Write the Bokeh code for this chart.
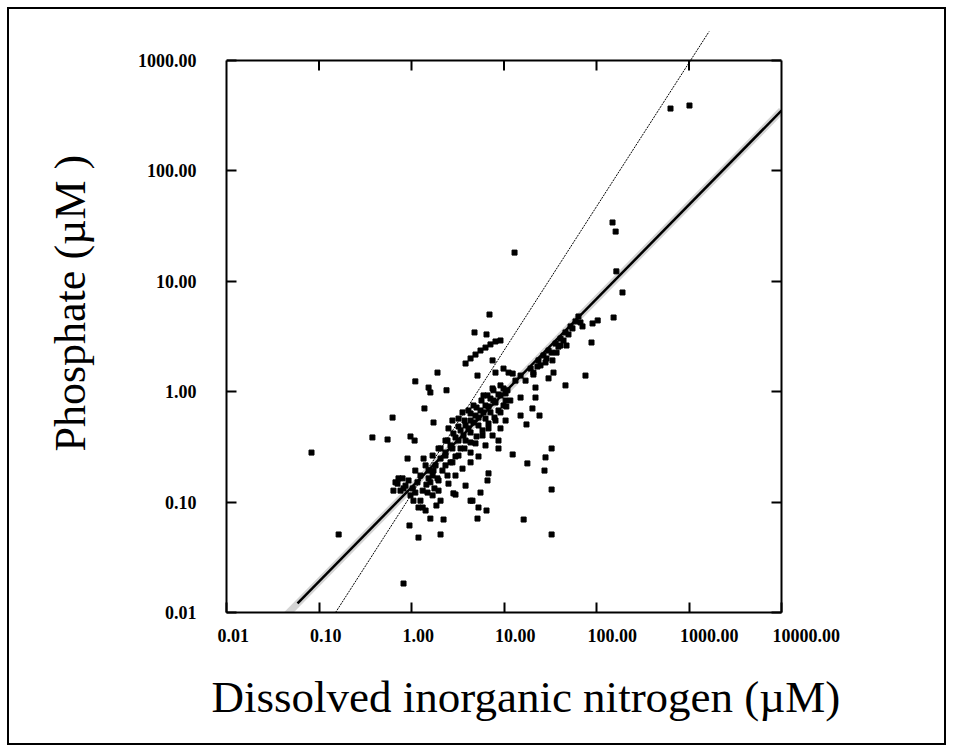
import math
from bokeh.plotting import figure
from bokeh.models import Range1d, FixedTicker, LogAxis, Title
from bokeh.embed import file_html
from bokeh.resources import INLINE

# ---------------- data ----------------
X_TICKS = [0.01, 0.1, 1.0, 10.0, 100.0, 1000.0, 10000.0]
X_TICK_LABELS = ["0.01", "0.10", "1.00", "10.00", "100.00", "1000.00", "10000.00"]
Y_TICKS = [0.01, 0.1, 1.0, 10.0, 100.0, 1000.0]
Y_TICK_LABELS = ["0.01", "0.10", "1.00", "10.00", "100.00", "1000.00"]
X_TITLE = "Dissolved inorganic nitrogen (\u00b5M)"
Y_TITLE = "Phosphate (\u00b5M )"

# dissolved inorganic nitrogen (uM)
DIN = [
    631, 1012, 149, 161, 164, 191, 13.0,
    153, 103, 90.6, 70.6, 88.3, 76.0, 46.2, 34.3, 30.3, 21.9, 21.9, 20.3, 24.2, 15.1, 17.5,
    32.7, 28.1, 27.4, 17.9, 12.4, 32.7, 16.3, 12.4, 20.8, 10.4, 15.1,
    19.4, 23.6, 26.7, 30.3, 36.1, 40.8, 46.2, 52.4, 59.3, 63.8, 37.0, 28.1, 40.8, 17.1, 24.8,
    6.97, 4.80, 6.47, 3.84, 4.35, 4.92, 5.57, 6.31, 7.14, 8.09, 9.16, 1.91, 1.10, 1.53, 1.60,
    2.39, 5.17, 7.52, 8.09,
    0.624, 1.38, 1.73, 0.551, 0.975, 1.08, 0.906, 1.35, 0.671, 0.638, 1.60, 1.96, 1.32, 1.05,
    2.84, 3.84, 6.80, 6.63, 5.57, 4.56, 5.30, 6.47, 8.72, 8.72, 1.60, 5.17,
    0.706, 0.861, 1.49, 1.19, 1.42, 2.22, 0.951, 1.19, 2.06, 0.820, 0.163, 2.99, 4.35, 32.7,
    2.33, 2.45, 0.378, 0.0830,
    9.16, 10.4, 8.09, 7.14, 6.31, 5.57, 7.14, 8.72, 9.88, 4.92,
    6.31, 8.09, 4.35, 3.84, 5.30, 6.80, 3.39, 4.35, 5.86, 2.99,
    3.84, 4.92, 2.64, 3.39, 4.35, 2.33, 2.99, 2.06, 2.64, 1.82,
    2.16, 1.69, 1.96, 1.53, 9.16, 10.9, 11.7, 7.69, 6.00, 4.68,
    4.13, 3.22, 3.56, 2.51, 2.77, 2.33, 1.96, 1.69, 1.42, 1.25,
    1.10, 1.53, 10.4, 9.16, 7.52, 6.31, 5.30, 4.35, 3.56, 2.99,
    2.51, 2.06, 1.69, 1.86, 0.760, 0.975, 1.10, 1.25, 0.800, 13.3,
    15.1, 11.2, 9.88,
    2.33, 2.77, 3.22, 3.65, 4.13, 4.68, 5.30, 6.00, 6.80, 7.69, 8.72, 9.88,
    2.06, 2.45, 2.84, 3.22, 3.74, 4.35, 5.05, 5.71, 6.63, 7.52,
    2.77, 3.22, 3.74, 4.35, 5.05, 5.86, 6.80, 7.89, 9.16, 10.6,
    0.723, 0.820, 0.929, 1.03, 1.16, 1.32, 1.45, 1.77, 1.91, 1.73,
    20.8, 23.0, 28.8, 32.7, 38.8, 44.0, 49.8, 55.0, 67.1, 33.4, 47.4,
]
# phosphate (uM)
PO4 = [
    367, 391, 34.1, 28.2, 12.3, 7.92, 18.2,
    4.70, 4.42, 4.15, 3.90, 2.79, 1.40, 1.14, 1.49, 1.32, 1.09, 0.885, 0.705, 0.608, 0.608, 0.505,
    0.306, 0.254, 0.193, 0.224, 0.270, 0.130, 0.0695, 1.46, 1.43, 0.964, 0.885,
    1.62, 1.92, 2.13, 2.36, 2.73, 3.03, 3.44, 3.90, 4.33, 4.80, 2.26, 1.84, 2.62, 1.26, 1.73,
    5.00, 3.44, 3.30, 1.80, 2.00, 2.17, 2.36, 2.51, 2.68, 2.85, 2.91, 1.49, 1.24, 1.09, 0.984,
    1.03, 1.40, 1.92, 1.49,
    0.583, 0.705, 0.526, 0.369, 0.393, 0.361, 0.248, 0.248, 0.151, 0.127, 0.151, 0.127, 0.0893, 0.103,
    0.120, 0.141, 0.182, 0.157, 0.122, 0.103, 0.0893, 0.0839, 0.361, 0.306, 0.0709, 0.0709,
    0.147, 0.141, 0.122, 0.0893, 0.0839, 0.0695, 0.0614, 0.0477, 0.0509, 0.0183, 0.0509, 0.117, 0.103, 0.0509,
    0.215, 0.174, 0.385, 0.281,
    0.925, 0.832, 0.798, 0.867, 0.750, 0.676, 0.649, 0.676, 0.750, 0.608,
    0.571, 0.548, 0.548, 0.494, 0.494, 0.465, 0.446, 0.427, 0.401, 0.385,
    0.361, 0.340, 0.326, 0.306, 0.281, 0.281, 0.259, 0.248, 0.229, 0.215,
    0.193, 0.174, 0.157, 0.193, 1.14, 1.03, 0.832, 1.03, 0.925, 0.750,
    0.676, 0.571, 0.649, 0.465, 0.548, 0.361, 0.306, 0.264, 0.215, 0.174,
    0.193, 0.164, 0.548, 0.465, 0.401, 0.326, 0.259, 0.229, 0.201, 0.174,
    0.147, 0.103, 0.115, 0.0931, 0.127, 0.115, 0.122, 0.103, 0.164, 1.26,
    1.40, 1.49, 1.62,
    0.264, 0.306, 0.361, 0.401, 0.465, 0.526, 0.583, 0.649, 0.734, 0.832, 0.944, 1.07,
    0.306, 0.361, 0.418, 0.484, 0.548, 0.635, 0.719, 0.832, 0.925, 1.07,
    0.229, 0.264, 0.306, 0.347, 0.393, 0.446, 0.515, 0.583, 0.649, 0.734,
    0.164, 0.133, 0.157, 0.133, 0.151, 0.127, 0.144, 0.133, 0.164, 0.193,
    1.49, 1.69, 2.00, 2.26, 2.56, 2.91, 3.30, 3.74, 4.24, 1.92, 2.62,
]
n = min(len(DIN), len(PO4))
DIN, PO4 = DIN[:n], PO4[:n]

# regression line (solid) and its light shading, reference line (dotted)
FIT_X = [0.0586, 10000]
FIT_Y = [0.0121, 352]
BAND_X = [0.040, 10000]
BAND_Y = [0.0087, 352]
REF_X = [0.151, 3000]
REF_Y = [0.01, 3990]

# ---------------- layout ----------------
W, H = 953, 752
L, R, B = 226, 781, 612
BOX_TOP = 60
FRAME_TOP = 31
DEC_Y = (B - BOX_TOP) / 5.0
Y_END = Y_TICKS[-1] * 10 ** ((BOX_TOP - FRAME_TOP) / DEC_Y)

TICK_FONT_PX = 18
NBSP = "\u00a0"


def shifted(label):
    # labels start ~10px left of their tick: pad on the left so the centred text moves right
    w = sum(0.25 if c == "." else 0.5 for c in label) * TICK_FONT_PX
    k = max(0, round((w - 20) / (0.25 * TICK_FONT_PX)))
    return NBSP * k + label


p = figure(width=W, height=H, x_axis_type="log", y_axis_type="log",
           x_range=Range1d(X_TICKS[0], X_TICKS[-1]),
           y_range=Range1d(Y_TICKS[0], Y_END),
           output_backend="svg", toolbar_location=None,
           min_border_left=L, min_border_right=W - R,
           min_border_top=FRAME_TOP, min_border_bottom=H - B)
p.outline_line_color = None
p.xgrid.visible = False
p.ygrid.visible = False
p.background_fill_color = "white"
p.border_fill_color = None
p.styles = {"outline": "2px solid black", "outline-offset": "-9px", "background": "white"}

FONT = "Liberation Serif"


def style_axis(ax, ticks):
    ax.ticker = FixedTicker(ticks=ticks)
    ax.axis_line_width = 2
    ax.axis_line_color = "black"
    ax.major_tick_in = 10
    ax.major_tick_out = 0
    ax.major_tick_line_width = 2
    ax.major_tick_line_color = "black"
    ax.minor_tick_line_color = None
    ax.major_label_text_font = FONT
    ax.major_label_text_font_style = "bold"
    ax.major_label_text_font_size = f"{TICK_FONT_PX}px"
    ax.major_label_text_color = "black"


ya = p.yaxis[0]
style_axis(ya, Y_TICKS)
ya.bounds = (Y_TICKS[0], Y_TICKS[-1])
ya.major_label_overrides = {float(t): s for t, s in zip(Y_TICKS, Y_TICK_LABELS)}
ya.major_label_standoff = 30

xa = p.xaxis[0]
style_axis(xa, X_TICKS)
xa.major_label_overrides = {float(t): shifted(s) for t, s in zip(X_TICKS, X_TICK_LABELS)}
xa.major_label_standoff = 13

ra = LogAxis()
style_axis(ra, Y_TICKS)
ra.bounds = (Y_TICKS[0], Y_TICKS[-1])
ra.major_label_text_color = None
p.add_layout(ra, "right")

# axis titles (as side titles so they can be placed freely outside the frame)
p.add_layout(Title(text=X_TITLE, align="left", offset=-15, vertical_align="top", standoff=46,
                   text_font=FONT, text_font_size="45px", text_font_style="normal",
                   text_color="black"), "below")
p.add_layout(Title(text=Y_TITLE, align="left", offset=161, vertical_align="bottom", standoff=80,
                   text_font=FONT, text_font_size="44px", text_font_style="normal",
                   text_color="black"), "left")

# top edge of the plot box and its inward ticks
p.segment(x0=[X_TICKS[0]], y0=[Y_TICKS[-1]], x1=[X_TICKS[-1]], y1=[Y_TICKS[-1]],
          line_width=2, color="black")
tick_f = 10 ** (10 / DEC_Y)
inner = X_TICKS[1:-1]
p.segment(x0=inner, y0=[Y_TICKS[-1]] * len(inner), x1=inner,
          y1=[Y_TICKS[-1] / tick_f] * len(inner), line_width=2, color="black")

# lines
p.line(BAND_X, BAND_Y, line_width=7, color="#d4d4d4")
p.line(REF_X, REF_Y, line_width=1, color="black", line_dash="2 1")
p.line(FIT_X, FIT_Y, line_width=2.5, color="black")

# points
p.scatter(DIN, PO4, marker="square", size=5, color="black")

open("out.html", "w").write(file_html(p, INLINE))
